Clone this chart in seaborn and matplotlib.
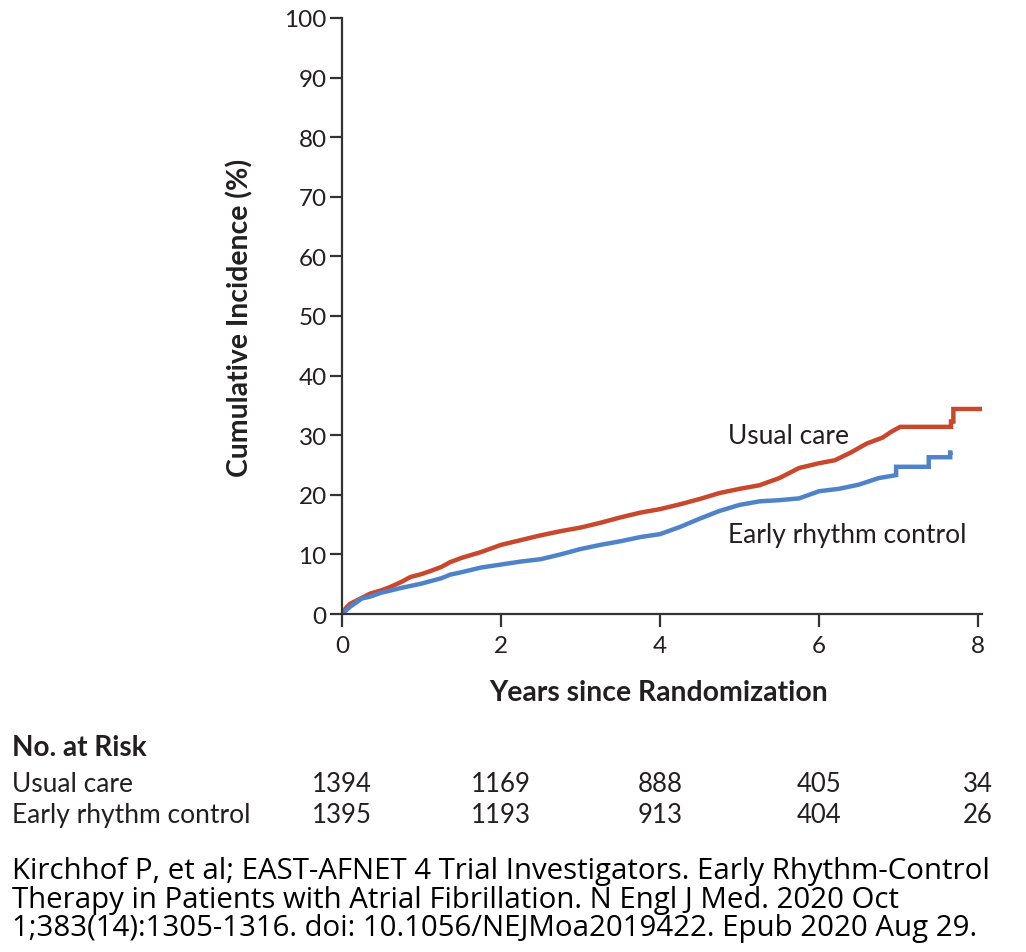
import matplotlib
matplotlib.use("Agg")
import matplotlib.pyplot as plt
import matplotlib.transforms as mtransforms
import seaborn as sns
import pandas as pd

# ---- data (curve vertices, incl. late step corners) ----
usual_t = [0, 0.05, 0.1, 0.25, 0.35, 0.5, 0.6, 0.75, 0.86, 1.0, 1.11, 1.25, 1.36, 1.5, 1.75,
           2.0, 2.25, 2.5, 2.75, 3.0, 3.25, 3.5, 3.75, 4.0, 4.25, 4.5, 4.75, 5.0, 5.25,
           5.5, 5.75, 6.0, 6.2, 6.4, 6.6, 6.8, 6.9, 7.02, 7.66, 7.66, 7.69, 7.69, 8.06]
usual_v = [0, 1.0, 1.7, 2.7, 3.4, 4.0, 4.5, 5.4, 6.2, 6.7, 7.2, 7.9, 8.7, 9.4, 10.4,
           11.6, 12.4, 13.2, 13.9, 14.5, 15.3, 16.2, 17.0, 17.6, 18.4, 19.3, 20.3, 21.0, 21.6,
           22.8, 24.5, 25.3, 25.8, 27.1, 28.6, 29.6, 30.5, 31.4, 31.4, 32.3, 32.3, 34.4, 34.4]
early_t = [0, 0.05, 0.1, 0.25, 0.35, 0.5, 0.6, 0.75, 0.86, 1.0, 1.11, 1.25, 1.36, 1.5, 1.75,
           2.0, 2.25, 2.5, 2.75, 3.0, 3.25, 3.5, 3.75, 4.0, 4.25, 4.5, 4.75, 5.0, 5.25,
           5.5, 5.75, 6.0, 6.25, 6.5, 6.75, 6.97, 6.97, 7.38, 7.38, 7.65, 7.65, 7.68]
early_v = [0, 0.6, 1.2, 2.6, 2.9, 3.6, 3.9, 4.4, 4.7, 5.1, 5.5, 6.0, 6.6, 7.0, 7.8,
           8.3, 8.8, 9.2, 10.0, 10.9, 11.6, 12.2, 12.9, 13.4, 14.6, 16.0, 17.3, 18.3, 18.9,
           19.1, 19.4, 20.6, 21.0, 21.7, 22.8, 23.3, 24.7, 24.7, 26.3, 26.3, 27.1, 27.1]

groups = ["Usual care", "Early rhythm control"]
risk_times = [0, 2, 4, 6, 8]
risk_usual = [1394, 1169, 888, 405, 34]
risk_early = [1395, 1193, 913, 404, 26]
x_ticks = [0, 2, 4, 6, 8]
y_ticks = [0, 10, 20, 30, 40, 50, 60, 70, 80, 90, 100]
colors = {"Usual care": "#C9472B", "Early rhythm control": "#4F83C9"}
citation = ["Kirchhof P, et al; EAST-AFNET 4 Trial Investigators. Early Rhythm-Control",
            "Therapy in Patients with Atrial Fibrillation. N Engl J Med. 2020 Oct",
            "1;383(14):1305-1316. doi: 10.1056/NEJMoa2019422. Epub 2020 Aug 29."]

df = pd.concat([
    pd.DataFrame({"t": usual_t, "v": usual_v, "g": groups[0]}),
    pd.DataFrame({"t": early_t, "v": early_v, "g": groups[1]}),
])

sns.set_theme(style="ticks")
plt.rcParams["font.family"] = ["Lato", "DejaVu Sans"]
TXT = "#231F20"

fig = plt.figure(figsize=(10.26, 9.53), dpi=100)
ax = fig.add_axes([342 / 1026, 1 - 615 / 953, (982 - 342) / 1026, (615 - 19) / 953])

sns.lineplot(data=df, x="t", y="v", hue="g", palette=colors, ax=ax,
             linewidth=3.2, legend=False, estimator=None, sort=False)
for ln in ax.lines:
    ln.set_solid_joinstyle("miter")
    ln.set_solid_capstyle("butt")

ax.set_xlim(0, 8.05)
ax.set_ylim(0, 100)
ax.set_xticks(x_ticks)
ax.set_yticks(y_ticks)
ax.set_xlabel("")
ax.set_ylabel("")
for s in ["top", "right"]:
    ax.spines[s].set_visible(False)
for s in ["left", "bottom"]:
    ax.spines[s].set_color("#333333")
    ax.spines[s].set_linewidth(1.6)
ax.tick_params(axis="both", direction="out", length=9, width=1.6, color="#333333",
               labelsize=17.5, labelcolor=TXT)
ax.tick_params(axis="x", pad=6)
ax.tick_params(axis="y", pad=2)

ax.text(4.85, 30.0, "Usual care", fontsize=19, color=TXT, va="center", ha="left")
ax.text(4.85, 13.4, "Early rhythm control", fontsize=19, color=TXT, va="center", ha="left")

fig.text(240 / 1026, 1 - 318 / 953, "Cumulative Incidence (%)", rotation=90,
         fontsize=20.4, fontweight="bold", color=TXT, ha="center", va="center")
fig.text(659 / 1026, 1 - 693 / 953, "Years since Randomization",
         fontsize=20.4, fontweight="bold", color=TXT, ha="center", va="center")

fig.text(12 / 1026, 1 - 748 / 953, "No. at Risk", fontsize=20.2, fontweight="bold",
         color=TXT, ha="left", va="center")
fig.text(12 / 1026, 1 - 785 / 953, groups[0], fontsize=19, color=TXT, ha="left", va="center")
fig.text(12 / 1026, 1 - 816 / 953, groups[1], fontsize=19, color=TXT, ha="left", va="center")

trans = mtransforms.blended_transform_factory(ax.transData, fig.transFigure)
for t, a, b in zip(risk_times, risk_usual, risk_early):
    fig.text(t, 1 - 785 / 953, str(a), transform=trans, fontsize=18.5, color=TXT,
             ha="center", va="center")
    fig.text(t, 1 - 816 / 953, str(b), transform=trans, fontsize=18.5, color=TXT,
             ha="center", va="center")

for i, line in enumerate(citation):
    fig.text(12 / 1026, 1 - (872 + 28.5 * i) / 953, line, fontsize=21.2, color="black",
             ha="left", va="center", family=["Open Sans", "DejaVu Sans"])

fig.savefig("out.png", dpi=100, facecolor="white")
